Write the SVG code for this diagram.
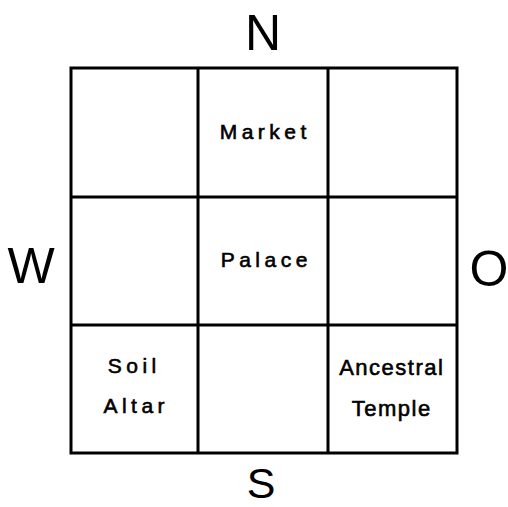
<svg xmlns="http://www.w3.org/2000/svg" width="508" height="507" viewBox="0 0 508 507">
<style>
.g{fill:none;stroke:#000;stroke-width:3}
.dir{font-family:"Liberation Sans",Arial,sans-serif;font-size:50px;fill:#000;text-anchor:middle}
.lbl{font-family:"Liberation Sans",Arial,sans-serif;font-size:21px;fill:#000;stroke:#000;stroke-width:0.6px;text-anchor:middle;letter-spacing:4.5px}
.lbl2{font-family:"Liberation Sans",Arial,sans-serif;font-size:22px;fill:#000;stroke:#000;stroke-width:0.6px;text-anchor:middle;letter-spacing:1.5px}
</style>
<rect width="508" height="507" fill="#fff"/>
<g id="grid">
<rect class="g" x="71" y="68" width="386" height="385"/>
<line class="g" x1="198" y1="68" x2="198" y2="453"/>
<line class="g" x1="328" y1="68" x2="328" y2="453"/>
<line class="g" x1="71" y1="197" x2="457" y2="197"/>
<line class="g" x1="71" y1="325" x2="457" y2="325"/>
</g>
<g id="directions">
<text class="dir" x="263" y="50">N</text>
<text class="dir" x="261" y="498" style="font-size:43px">S</text>
<text class="dir" x="31" y="283">W</text>
<text class="dir" x="489" y="286">O</text>
</g>
<g id="market"><text class="lbl" x="265.25" y="139">Market</text></g>
<g id="palace"><text class="lbl" x="266.25" y="267">Palace</text></g>
<g id="soil-altar"><text class="lbl" x="134.25" y="373">Soil</text><text class="lbl" x="136.25" y="413">Altar</text></g>
<g id="ancestral-temple"><text class="lbl2" x="391.75" y="375">Ancestral</text><text class="lbl2" x="391.75" y="416">Temple</text></g>
</svg>
